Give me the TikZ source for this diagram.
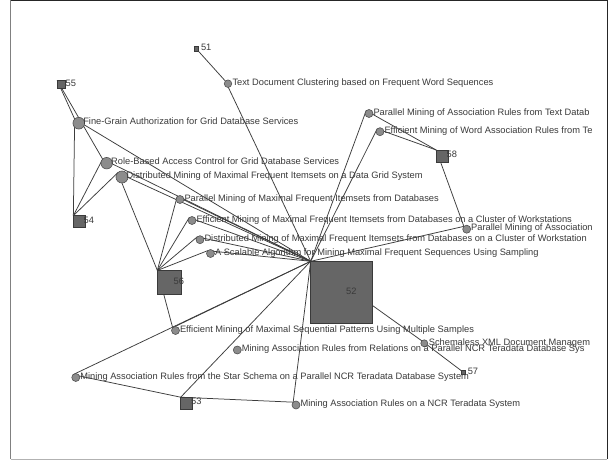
\documentclass[tikz,border=0pt]{standalone}
\usepackage{fontspec}
\setmainfont{Liberation Sans}
\usetikzlibrary{backgrounds}
\definecolor{sqfill}{HTML}{666666}
\definecolor{sqdraw}{HTML}{3A3A3A}
\definecolor{cfill}{HTML}{8C8C8C}
\definecolor{cdraw}{HTML}{505050}
\definecolor{edgec}{HTML}{3C3C3C}
\definecolor{txt}{HTML}{3A3A3A}
\tikzset{
  sq/.style={rectangle, draw=sqdraw, fill=sqfill, line width=0.6pt, minimum size=#1, inner sep=0pt, outer sep=0pt},
  cir/.style={circle, draw=cdraw, fill=cfill, line width=0.6pt, minimum size=#1, inner sep=0pt, outer sep=0pt},
  lbl/.style={anchor=base west, inner sep=0pt, text=txt, font=\fontsize{9.3}{11}\selectfont},
  edge/.style={draw=edgec, line width=0.75pt}
}
\begin{document}
\begin{tikzpicture}[x=1pt,y=-1pt]
\useasboundingbox (0,0) rectangle (610,460);

% square nodes
\node[sq=4.5pt] (n51) at (196.5,48.8) {};
\node[sq=8pt] (n55) at (61.2,84.5) {};
\node[sq=11.7pt] (n54) at (79.2,221.5) {};
\node[sq=23.7pt] (n56) at (169.2,282.3) {};
\node[sq=12pt] (n58) at (442.2,156) {};
\node[sq=62pt] (n52) at (341.7,292.3) {};
\node[sq=12pt] (n53) at (186.7,403.2) {};
\node[sq=4pt] (n57) at (463.3,372.7) {};

% circle nodes
\node[cir=7.5pt] (tdc) at (228,83.7) {};
\node[cir=11.7pt] (fg) at (78.8,123.2) {};
\node[cir=11.5pt] (rb) at (106.7,163.2) {};
\node[cir=12pt] (dm) at (122,177) {};
\node[cir=8pt] (pmmfi) at (180,199.5) {};
\node[cir=8pt] (emmfi) at (192,220.5) {};
\node[cir=8pt] (dmmfi) at (200,239.7) {};
\node[cir=8pt] (sca) at (210.5,253.5) {};
\node[cir=8pt] (pmart) at (369,113.5) {};
\node[cir=8pt] (emwar) at (380,131.7) {};
\node[cir=8pt] (pma) at (466.7,229.2) {};
\node[cir=8pt] (emsp) at (175.5,330.5) {};
\node[cir=8pt] (marrel) at (237.3,350) {};
\node[cir=8pt] (star) at (75.8,377.5) {};
\node[cir=8pt] (marncr) at (296,405) {};
\node[cir=7pt] (schx) at (424.3,343.3) {};

% background, frame and edges
\begin{scope}[on background layer]
\fill[white] (0,0) rectangle (610,460);
\draw[line width=1pt, color=black!85] (10.5,0.5) -- (607,0.5) -- (607,459);
\draw[line width=1pt, color=black!50] (10.5,0.5) -- (10.5,459);
\draw[line width=1pt, color=black!30] (10.5,459) -- (607,459);
\draw[edge] (n51.north west) -- (tdc.north west);
\draw[edge] (tdc.north west) -- (n52.north west);
\draw[edge] (n55.north west) -- (fg.north west);
\draw[edge] (n55.north west) -- (rb.north west);
\draw[edge] (fg.north west) -- (n54.north west);
\draw[edge] (fg.north west) -- (n52.north west);
\draw[edge] (rb.north west) -- (n54.north west);
\draw[edge] (rb.north west) -- (n52.north west);
\draw[edge] (dm.north west) -- (n54.north west);
\draw[edge] (dm.north west) -- (n56.north west);
\draw[edge] (dm.north west) -- (n52.north west);
\draw[edge] (pmmfi.north west) -- (n56.north west);
\draw[edge] (pmmfi.north west) -- (n52.north west);
\draw[edge] (emmfi.north west) -- (n56.north west);
\draw[edge] (emmfi.north west) -- (n52.north west);
\draw[edge] (dmmfi.north west) -- (n56.north west);
\draw[edge] (dmmfi.north west) -- (n52.north west);
\draw[edge] (sca.north west) -- (n56.north west);
\draw[edge] (sca.north west) -- (n52.north west);
\draw[edge] (n56.north west) -- (emsp.north west);
\draw[edge] (emsp.north west) -- (n52.north west);
\draw[edge] (star.north west) -- (n52.north west);
\draw[edge] (star.north west) -- (n53.north west);
\draw[edge] (n53.north west) -- (n52.north west);
\draw[edge] (n53.north west) -- (marncr.north west);
\draw[edge] (marncr.north west) -- (n52.north west);
\draw[edge] (n52.north west) -- (schx.north west);
\draw[edge] (schx.north west) -- (n57.north west);
\draw[edge] (n52.north west) -- (pmart.north west);
\draw[edge] (n52.north west) -- (emwar.north west);
\draw[edge] (pmart.north west) -- (n58.north west);
\draw[edge] (emwar.north west) -- (n58.north west);
\draw[edge] (n58.north west) -- (pma.north west);
\draw[edge] (pma.north west) -- (n52.north west);
\end{scope}

% labels
\begin{scope}
\clip (0,0) rectangle (596,460);
\node[lbl] (l51) at (200.8,50.5) {51};
\node[lbl] (l55) at (65.5,86.2) {55};
\node[lbl] (l54) at (83.5,223.2) {54};
\node[lbl] (l56) at (173.5,284) {56};
\node[lbl] (l58) at (446.5,157.7) {58};
\node[lbl] (l52) at (346,294) {52};
\node[lbl] (l53) at (191,404.9) {53};
\node[lbl] (l57) at (467.6,374.4) {57};
\node[lbl] (ltdc) at (232.3,85.4) {Text Document Clustering based on Frequent Word Sequences};
\node[lbl] (lfg) at (83.1,124.9) {Fine-Grain Authorization for Grid Database Services};
\node[lbl] (lrb) at (111,164.9) {Role-Based Access Control for Grid Database Services};
\node[lbl] (ldm) at (126.3,178.7) {Distributed Mining of Maximal Frequent Itemsets on a Data Grid System};
\node[lbl] (lpmmfi) at (184.3,201.2) {Parallel Mining of Maximal Frequent Itemsets from Databases};
\node[lbl] (lemmfi) at (196.3,222.2) {Efficient Mining of Maximal Frequent Itemsets from Databases on a Cluster of Workstations};
\node[lbl] (ldmmfi) at (204.3,241.4) {Distributed Mining of Maximal Frequent Itemsets from Databases on a Cluster of Workstation};
\node[lbl] (lsca) at (214.8,255.2) {A Scalable Algorithm for Mining Maximal Frequent Sequences Using Sampling};
\node[lbl] (lpmart) at (373.3,115.2) {Parallel Mining of Association Rules from Text Datab};
\node[lbl] (lemwar) at (384.3,133.4) {Efficient Mining of Word Association Rules from Te};
\node[lbl] (lpma) at (471,230.9) {Parallel Mining of Association};
\node[lbl] (lemsp) at (179.8,332.2) {Efficient Mining of Maximal Sequential Patterns Using Multiple Samples};
\node[lbl] (lmarrel) at (241.6,351.7) {Mining Association Rules from Relations on a Parallel NCR Teradata Database Sys};
\node[lbl] (lstar) at (80.1,379.2) {Mining Association Rules from the Star Schema on a Parallel NCR Teradata Database System};
\node[lbl] (lmarncr) at (300.3,406.7) {Mining Association Rules on a NCR Teradata System};
\node[lbl] (lschx) at (428.6,345) {Schemaless XML Document Managem};
\end{scope}
\end{tikzpicture}
\end{document}
